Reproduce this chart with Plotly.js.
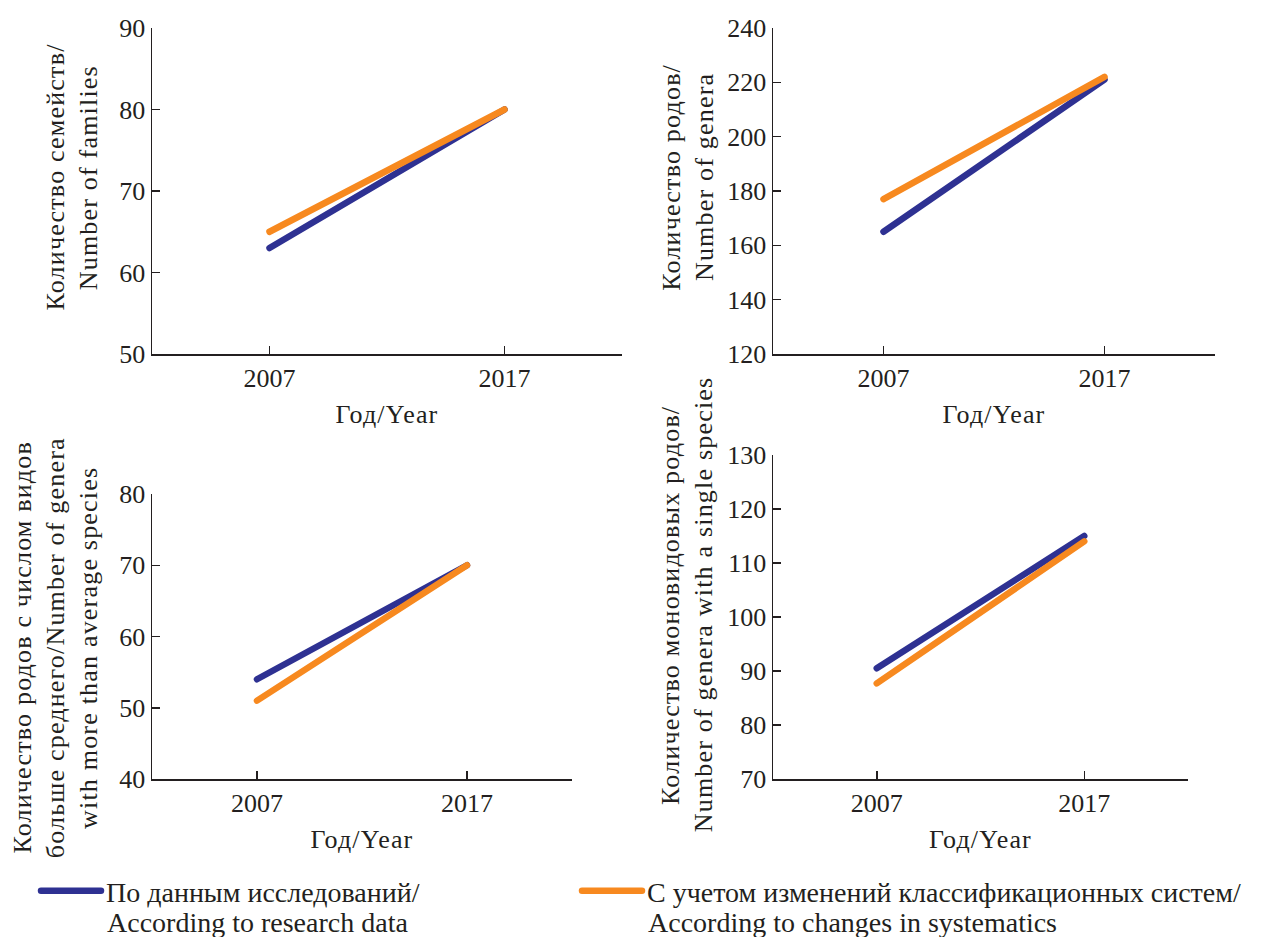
<!DOCTYPE html>
<html>
<head>
<meta charset="utf-8">
<script src="https://cdn.plot.ly/plotly-3.0.1.min.js"></script>
<style>
html,body{margin:0;padding:0;background:#fff;}
#chart{width:1264px;height:937px;}
#chart text.annotation-text, #chart text[class$="title"]{letter-spacing:1.2px;}
#chart g.annotation[data-index="9"] text.annotation-text, #chart g.annotation[data-index="10"] text.annotation-text{letter-spacing:0;}
#chart path.js-line{stroke-linecap:round;}
</style>
</head>
<body>
<div id="chart"></div>
<script>
// ---- data ----
const years = [2007, 2017];
const families_research = [63, 80];
const families_systematics = [65, 80];
const genera_research = [165, 221];
const genera_systematics = [177, 222];
const largeGenera_research = [54, 70];
const largeGenera_systematics = [51, 70];
const monotypic_research = [90.5, 115];
const monotypic_systematics = [87.7, 114];

const seriesNames = [
  ["По данным исследований/", "According to research data"],
  ["С учетом изменений классификационных систем/", "According to changes in systematics"]
];
const yTitles = [
  ["Количество семейств/", "Number of families"],
  ["Количество родов/", "Number of genera"],
  ["Количество родов с числом видов", "больше среднего/Number of genera", "with more than average species"],
  ["Количество моновидовых родов/", "Number of genera with a single species"]
];
const xTitle = "Год/Year";
const xTickVals = [2007, 2017];

// ---- style ----
const BLUE = "#2e3192", ORANGE = "#f7891f", INK = "#231f20";
const FONT = "Liberation Serif";
const FS = 26;
const LEG_FS = 28;
const LINE_GAP = 33;
const W = 1264, H = 937;
const txtFont = {family: FONT, size: FS, color: INK};
const legFont = {family: FONT, size: LEG_FS, color: INK};

const panels = [
  {ax: "", res: families_research, sys: families_systematics, range: [50, 90], dtick: 10,
   dom: {x: [152, 622], y: [28, 354]}, tt: {x: 71, y: 177}},
  {ax: "2", res: genera_research, sys: genera_systematics, range: [120, 240], dtick: 20,
   dom: {x: [773, 1215], y: [28, 354]}, tt: {x: 687, y: 177}},
  {ax: "3", res: largeGenera_research, sys: largeGenera_systematics, range: [40, 80], dtick: 10,
   dom: {x: [152, 572], y: [494, 779]}, tt: {x: 55, y: 648}},
  {ax: "4", res: monotypic_research, sys: monotypic_systematics, range: [70, 130], dtick: 10,
   dom: {x: [773, 1188], y: [455, 779]}, tt: {x: 686, y: 605}}
];

const traces = [];
const layout = {
  width: W, height: H,
  margin: {l: 0, r: 0, t: 0, b: 0, autoexpand: false},
  paper_bgcolor: "#fff", plot_bgcolor: "#fff",
  font: txtFont,
  annotations: [],
  legend: {x: 36 / W, y: 1 - 866 / H, xanchor: "left", yanchor: "top",
           bgcolor: "rgba(0,0,0,0)", font: legFont, itemwidth: 60, tracegroupgap: 0},
  legend2: {x: 577 / W, y: 1 - 866 / H, xanchor: "left", yanchor: "top",
            bgcolor: "rgba(0,0,0,0)", font: legFont, itemwidth: 60, tracegroupgap: 0}
};

panels.forEach((p, i) => {
  const xa = "x" + p.ax, ya = "y" + p.ax;
  traces.push({x: years, y: p.res, xaxis: xa, yaxis: ya, mode: "lines", type: "scatter",
    line: {color: BLUE, width: 6.5}, name: seriesNames[0][0], showlegend: i === 0, legend: "legend", hoverinfo: "skip"});
  traces.push({x: years, y: p.sys, xaxis: xa, yaxis: ya, mode: "lines", type: "scatter",
    line: {color: ORANGE, width: 6.5}, name: seriesNames[1][0], showlegend: i === 0, legend: "legend2", hoverinfo: "skip"});
  const axBase = {showline: true, linecolor: INK, linewidth: 1.5, ticks: "inside", ticklen: 8,
    tickwidth: 1.5, tickcolor: INK, showgrid: false, zeroline: false, automargin: false,
    tickfont: txtFont};
  layout["xaxis" + p.ax] = Object.assign({}, axBase, {
    domain: [p.dom.x[0] / W, p.dom.x[1] / W], anchor: ya, range: [2002, 2022],
    tickmode: "array", tickvals: xTickVals, ticktext: xTickVals.map(String),
    title: {text: xTitle, font: txtFont, standoff: 13}
  });
  layout["yaxis" + p.ax] = Object.assign({}, axBase, {
    domain: [1 - p.dom.y[1] / H, 1 - p.dom.y[0] / H], anchor: xa, range: p.range,
    tick0: p.range[0], dtick: p.dtick, ticklabelstandoff: 0
  });
  // y-axis title, one rotated line per annotation
  const n = yTitles[i].length;
  yTitles[i].forEach((line, k) => {
    const cx = p.tt.x + (k - (n - 1) / 2) * LINE_GAP;
    layout.annotations.push({text: line, xref: "paper", yref: "paper",
      x: cx / W, y: 1 - p.tt.y / H, xanchor: "center", yanchor: "middle",
      textangle: -90, showarrow: false, font: txtFont});
  });
});

// second lines of the legend entries
const legendSecondLine = [{x: 105, y: 922}, {x: 646, y: 922}];
seriesNames.forEach((nm, j) => {
  layout.annotations.push({text: nm[1], xref: "paper", yref: "paper",
    x: legendSecondLine[j].x / W, y: 1 - legendSecondLine[j].y / H, xanchor: "left", yanchor: "middle",
    showarrow: false, font: legFont});
});

Plotly.newPlot("chart", traces, layout, {displayModeBar: false, staticPlot: true});
</script>
</body>
</html>
